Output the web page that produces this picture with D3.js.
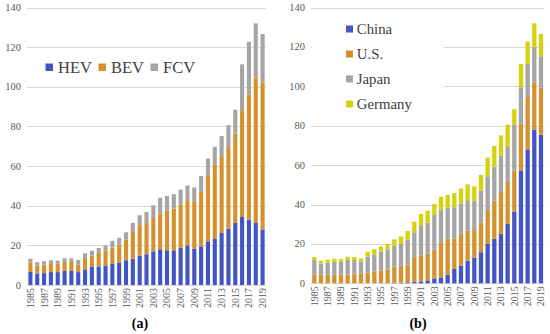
<!DOCTYPE html>
<html>
<head>
<meta charset="utf-8">
<script src="https://cdn.jsdelivr.net/npm/d3@7"></script>
<style>
  body { margin: 0; background: #fff; }
  svg { display: block; font-family: "Liberation Serif", "Times New Roman", serif; }
</style>
</head>
<body>
<div id="chart"></div>
<script>
// Years on the x axis
const years = d3.range(1985, 2020).map(String);
const yTicks = [0, 20, 40, 60, 80, 100, 120, 140];

// Panel (a): by vehicle type
const hev = [6.6, 5.8, 6.0, 6.5, 6.5, 7.1, 7.1, 6.5, 7.9, 9.1, 9.4, 9.8, 10.6, 11.3, 12.5, 13.3, 14.8, 15.5, 17.0, 18.0, 17.5, 17.5, 18.7, 20.0, 18.4, 19.5, 22.0, 23.2, 26.3, 28.5, 31.3, 34.3, 33.0, 31.3, 28.0];
const bev = [4.9, 4.0, 4.3, 4.5, 4.3, 4.5, 4.5, 3.9, 5.7, 5.7, 6.8, 7.7, 8.3, 9.1, 10.4, 13.5, 15.4, 15.8, 16.8, 18.0, 20.2, 21.1, 21.9, 22.8, 23.5, 27.5, 33.4, 37.5, 38.7, 41.1, 45.1, 53.9, 63.1, 73.4, 74.0];
const fcv = [1.8, 1.7, 1.7, 1.5, 1.5, 1.9, 1.8, 2.2, 2.4, 2.5, 2.5, 2.5, 3.4, 3.4, 3.7, 4.5, 5.0, 5.5, 6.4, 8.0, 7.2, 7.2, 7.5, 7.4, 7.3, 8.0, 8.4, 9.0, 10.1, 11.0, 12.0, 23.1, 26.6, 27.3, 24.6];

// Panel (b): by country
const china = [0, 0, 0, 0, 0, 0, 0, 0, 0, 0, 0, 0, 0.2, 0.3, 0.5, 0.8, 1.0, 1.5, 2.5, 3.0, 4.4, 7.3, 9.0, 11.5, 12.9, 15.8, 20.0, 22.6, 25.1, 30.2, 36.4, 57.0, 68.0, 78.0, 75.4];
const us = [4.4, 4.3, 4.3, 4.4, 4.4, 4.5, 4.6, 5.1, 5.5, 6.0, 6.4, 7.0, 8.3, 8.6, 9.0, 12.6, 13.0, 13.5, 14.5, 17.4, 18.2, 15.3, 16.1, 15.3, 14.1, 15.1, 17.3, 19.4, 21.2, 21.2, 20.9, 24.0, 26.6, 24.0, 23.9];
const japan = [7.4, 5.7, 6.2, 6.5, 6.4, 7.4, 7.2, 5.7, 8.1, 8.7, 9.7, 10.2, 10.6, 11.1, 12.6, 12.5, 15.4, 15.8, 17.7, 16.8, 15.7, 16.0, 15.5, 15.4, 14.7, 16.1, 17.0, 17.2, 18.6, 18.2, 23.2, 18.5, 16.9, 18.0, 15.9];
const germany = [1.5, 1.5, 1.5, 1.6, 1.5, 1.6, 1.6, 1.8, 2.4, 2.6, 2.6, 2.8, 3.2, 3.8, 4.5, 5.4, 5.8, 6.0, 5.5, 6.8, 6.6, 7.2, 7.5, 8.0, 7.5, 8.0, 9.5, 10.5, 10.2, 11.0, 7.9, 11.8, 11.2, 12.0, 11.4];

const width = 550, height = 334;

const svg = d3.select('#chart')
    .append('svg')
    .attr('width', width)
    .attr('height', height);

// Build rows for the stack layout
function makeRows(keys, series) {
    return years.map(function(year, i) {
        const row = { year: year };
        keys.forEach(function(k, j) { row[k] = series[j][i]; });
        return row;
    });
}

function drawPanel(opts) {
    const g = svg.append('g');

    const x = d3.scaleBand()
        .domain(years)
        .range([opts.left, opts.right])
        .paddingInner(opts.padInner)
        .paddingOuter(opts.padInner / 2);

    const y = d3.scaleLinear()
        .domain([0, 140])
        .range([opts.bottom, opts.top]);

    // gridlines
    g.selectAll('.grid')
        .data(yTicks)
        .enter()
        .append('line')
        .attr('x1', opts.left)
        .attr('x2', opts.right)
        .attr('y1', d => Math.round(y(d)) + 0.5)
        .attr('y2', d => Math.round(y(d)) + 0.5)
        .attr('stroke', '#d9d9d9')
        .attr('stroke-width', 1);

    // y tick labels
    g.selectAll('.ylab')
        .data(yTicks)
        .enter()
        .append('text')
        .attr('x', opts.left - 6)
        .attr('y', d => y(d) + 3.5)
        .attr('text-anchor', 'end')
        .attr('font-size', '10.5px')
        .attr('fill', '#595959')
        .text(d => d);

    // stacked bars
    const rows = makeRows(opts.keys, opts.series);
    const stacked = d3.stack().keys(opts.keys)(rows);

    g.selectAll('.layer')
        .data(stacked)
        .enter()
        .append('g')
        .attr('fill', (d, i) => opts.colors[i])
        .selectAll('rect')
        .data(d => d)
        .enter()
        .append('rect')
        .attr('x', d => x(d.data.year))
        .attr('width', x.bandwidth())
        .attr('y', d => y(d[1]))
        .attr('height', d => y(d[0]) - y(d[1]));

    // x tick labels, every other year, rotated
    const labelYears = years.filter((d, i) => i % 2 === 0);
    g.selectAll('.xlab')
        .data(labelYears)
        .enter()
        .append('text')
        .attr('transform', d => `translate(${x(d) + x.bandwidth() / 2 + 3.5}, ${opts.bottom + 3}) rotate(-90)`)
        .attr('text-anchor', 'end')
        .attr('font-size', '10px')
        .attr('fill', '#595959')
        .text(d => d);

    // panel caption
    g.append('text')
        .attr('x', opts.captionX)
        .attr('y', 328)
        .attr('text-anchor', 'middle')
        .attr('font-size', '14px')
        .attr('font-weight', 'bold')
        .attr('fill', '#000')
        .text(opts.caption);

    return g;
}

const colorsA = ['#4155c6', '#d4912e', '#a5a5a5'];
const colorsB = ['#4155c6', '#d4912e', '#a5a5a5', '#d6d10e'];

// Panel (a)
const gA = drawPanel({
    left: 27, right: 266, top: 7.5, bottom: 285,
    padInner: 0.4,
    keys: ['HEV', 'BEV', 'FCV'],
    series: [hev, bev, fcv],
    colors: colorsA,
    caption: '(a)', captionX: 140
});

// Horizontal legend for (a)
const legendA = gA.selectAll('.legA')
    .data(['HEV', 'BEV', 'FCV'])
    .enter()
    .append('g')
    .attr('transform', (d, i) => `translate(${[45.5, 98.5, 150.5][i]}, 63.5)`);

legendA.append('rect')
    .attr('width', 7.5)
    .attr('height', 7.5)
    .attr('fill', (d, i) => colorsA[i]);

legendA.append('text')
    .attr('x', 12.5)
    .attr('y', 9.3)
    .attr('font-size', '16.5px')
    .attr('fill', '#404040')
    .text(d => d);

// Panel (b)
const gB = drawPanel({
    left: 311, right: 544.3, top: 7.5, bottom: 283.3,
    padInner: 0.36,
    keys: ['China', 'U.S.', 'Japan', 'Germany'],
    series: [china, us, japan, germany],
    colors: colorsB,
    caption: '(b)', captionX: 418
});

// Vertical legend for (b), white box over gridlines
gB.append('rect')
    .attr('x', 312)
    .attr('y', 14)
    .attr('width', 132)
    .attr('height', 102)
    .attr('fill', '#fff');

const legendB = gB.selectAll('.legB')
    .data(['China', 'U.S.', 'Japan', 'Germany'])
    .enter()
    .append('g')
    .attr('transform', (d, i) => `translate(346, ${25.5 + i * 25})`);

legendB.append('rect')
    .attr('width', 7)
    .attr('height', 7)
    .attr('fill', (d, i) => colorsB[i]);

legendB.append('text')
    .attr('x', 10.8)
    .attr('y', 8.6)
    .attr('font-size', '14.8px')
    .attr('fill', '#404040')
    .text(d => d);
</script>
</body>
</html>
